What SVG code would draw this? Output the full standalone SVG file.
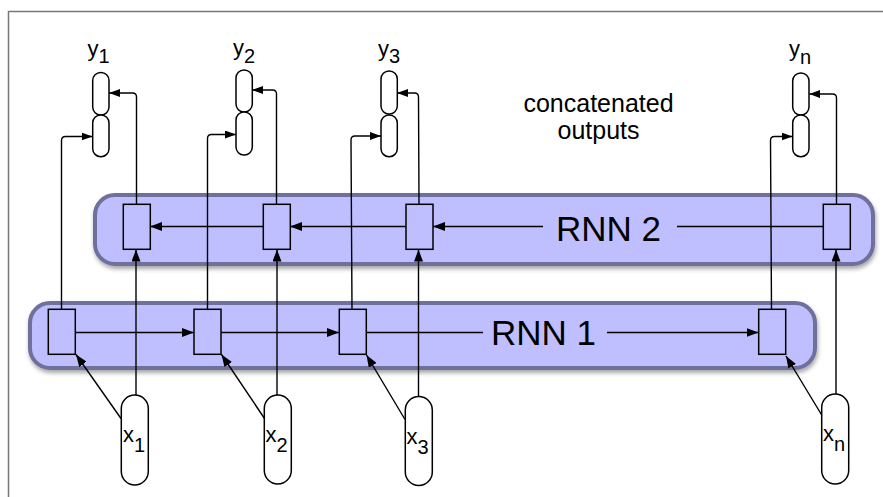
<svg xmlns="http://www.w3.org/2000/svg" width="883" height="497" viewBox="0 0 883 497">
<defs>
<style>
.frame{fill:#fff;stroke:#777;stroke-width:1.5}
.cont{fill:#bfbfff;stroke:#6f6f9c;stroke-width:4;filter:url(#sh)}
.box{fill:#bfbfff;stroke:#000;stroke-width:1.5}
.cap{fill:#fff;stroke:#000;stroke-width:1.5}
.ln{fill:none;stroke:#000;stroke-width:1.4}
.a{marker-end:url(#ah)}
.s{marker-end:url(#as)}
text{font-family:"Liberation Sans",Arial,sans-serif;fill:#000}
.lab{font-size:22px}
.sub{font-size:20px}
.rnn{font-size:35px}
.note{font-size:25px;text-anchor:middle}
</style>
<filter id="sh" x="-5%" y="-20%" width="110%" height="150%">
<feDropShadow dx="1" dy="3" stdDeviation="2" flood-color="#000" flood-opacity="0.35"/>
</filter>
<marker id="ah" viewBox="0 0 12 9" refX="12" refY="4.5" markerWidth="12" markerHeight="9" markerUnits="userSpaceOnUse" orient="auto"><path d="M0,0 L12,4.5 L0,9 z" fill="#000"/></marker>
<marker id="as" viewBox="0 0 11 8" refX="11" refY="4" markerWidth="11" markerHeight="8" markerUnits="userSpaceOnUse" orient="auto"><path d="M0,0 L11,4 L0,8 z" fill="#000"/></marker>
</defs>
<rect class="frame" x="8.5" y="11.5" width="900" height="500"/>

<g id="rnn2">
<rect class="cont" x="95" y="195" width="778" height="69" rx="20"/>
<text class="rnn" x="556" y="240.5">RNN 2</text>
</g>
<g id="rnn1">
<rect class="cont" x="30" y="303" width="785" height="65" rx="20"/>
<text class="rnn" x="491" y="345">RNN 1</text>
</g>

<g id="connectors">
<path class="ln s" d="M61.5,309 V140.5 Q61.5,136.5 65.5,136.5 H92.5"/>
<path class="ln s" d="M207.5,309 V138.5 Q207.5,134.5 211.5,134.5 H236"/>
<path class="ln s" d="M352,309 L351,140 Q351,136 355,136 H381"/>
<path class="ln s" d="M771.5,309 L770.5,140.5 Q770.5,136.5 774.5,136.5 H792.5"/>
<path class="ln s" d="M136.5,204 V97 Q136.5,93 132.5,93 H109"/>
<path class="ln s" d="M276.5,204 V94 Q276.5,90 272.5,90 H252"/>
<path class="ln s" d="M419,204 L418.5,97 Q418.5,93 414.5,93 H397"/>
<path class="ln s" d="M836.5,204 V98 Q836.5,94 832.5,94 H809.3"/>
<path class="ln a" d="M136,395 V249.5"/>
<path class="ln a" d="M277,395 V249.5"/>
<path class="ln a" d="M418.5,396.5 V249.5"/>
<path class="ln a" d="M836,394 V249.5"/>
<path class="ln a" d="M121,418.5 L76,354.5"/>
<path class="ln a" d="M264.5,418.5 L221.5,354.5"/>
<path class="ln a" d="M405,419.5 L366.5,355"/>
<path class="ln a" d="M821.7,415 L786,356"/>
<path class="ln a" d="M75.5,332.5 H194"/>
<path class="ln a" d="M221,332.5 H339"/>
<path class="ln" d="M366,332.5 H483"/>
<path class="ln a" d="M607,332.5 H758.5"/>
<path class="ln" d="M823,226.5 H677"/>
<path class="ln a" d="M543,226.5 H433"/>
<path class="ln a" d="M406,226.5 H290"/>
<path class="ln a" d="M263,226.5 H150"/>
</g>

<g id="h1"><rect class="box" x="48.3" y="309.3" width="27" height="45"/></g>
<g id="h2"><rect class="box" x="194" y="309.3" width="27" height="45"/></g>
<g id="h3"><rect class="box" x="339.3" y="309.3" width="27" height="45"/></g>
<g id="hn"><rect class="box" x="758.7" y="309.3" width="27" height="45"/></g>

<g id="g1"><rect class="box" x="123.3" y="204.3" width="27" height="45"/></g>
<g id="g2"><rect class="box" x="263.3" y="204.3" width="27" height="45"/></g>
<g id="g3"><rect class="box" x="406" y="204.3" width="27" height="45"/></g>
<g id="gn"><rect class="box" x="823.3" y="204.3" width="27" height="45"/></g>

<g id="x1"><rect class="cap" x="121.3" y="395" width="27" height="90" rx="13.5"/><text class="lab" x="123" y="442">x<tspan class="sub" dy="10">1</tspan></text></g>
<g id="x2"><rect class="cap" x="264.3" y="395" width="27" height="89" rx="13.5"/><text class="lab" x="265.5" y="442">x<tspan class="sub" dy="10">2</tspan></text></g>
<g id="x3"><rect class="cap" x="405.3" y="396.5" width="27" height="89" rx="13.5"/><text class="lab" x="406.5" y="443.5">x<tspan class="sub" dy="10">3</tspan></text></g>
<g id="xn"><rect class="cap" x="821.7" y="394" width="27" height="90" rx="13.5"/><text class="lab" x="823" y="441">x<tspan class="sub" dy="10">n</tspan></text></g>

<g id="y1"><rect class="cap" x="92.7" y="72.5" width="16.3" height="42.5" rx="8"/><rect class="cap" x="92.7" y="115" width="16.3" height="41.7" rx="8"/><text class="lab" x="87.5" y="55.5">y<tspan class="sub" dy="7.5">1</tspan></text></g>
<g id="y2"><rect class="cap" x="236" y="70" width="16.3" height="42" rx="8"/><rect class="cap" x="236" y="112" width="16.3" height="43" rx="8"/><text class="lab" x="233" y="55">y<tspan class="sub" dy="7.5">2</tspan></text></g>
<g id="y3"><rect class="cap" x="381" y="71" width="16.3" height="43" rx="8"/><rect class="cap" x="381" y="115" width="16.3" height="41.7" rx="8"/><text class="lab" x="378" y="55.5">y<tspan class="sub" dy="7.5">3</tspan></text></g>
<g id="yn"><rect class="cap" x="792.7" y="73" width="16.3" height="42" rx="8"/><rect class="cap" x="792.7" y="115" width="16.3" height="41.7" rx="8"/><text class="lab" x="789" y="56">y<tspan class="sub" dy="7.5">n</tspan></text></g>

<g id="note"><text class="note" x="598.5" y="111.5">concatenated</text><text class="note" x="598.5" y="139">outputs</text></g>
</svg>
